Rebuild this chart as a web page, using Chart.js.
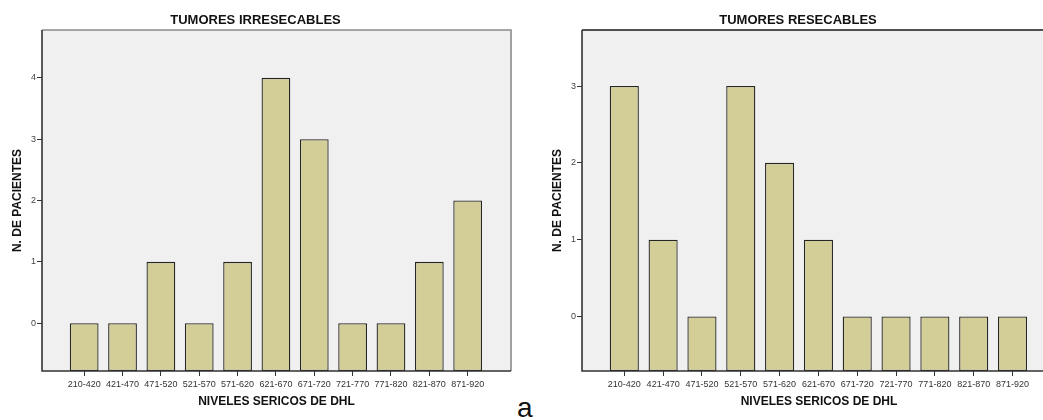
<!DOCTYPE html>
<html>
<head>
<meta charset="utf-8">
<script src="https://cdn.jsdelivr.net/npm/chart.js@4"></script>
<style>
  html, body { margin: 0; padding: 0; background: #fff; overflow: hidden; width: 1043px; height: 420px; }
  .wrap { position: absolute; top: 0; }
  #letter { position: absolute; left: 517px; top: 394px; font: 28px "Liberation Sans", Arial, sans-serif; line-height: 28px; color: #111; }
</style>
</head>
<body>
<div class="wrap" style="left:0"><canvas id="irres" width="515" height="420"></canvas></div>
<div class="wrap" style="left:540px"><canvas id="res" width="520" height="420"></canvas></div>
<div id="letter">a</div>
<script>
const FONT = '"Liberation Sans", Arial, sans-serif';

// rangos de DHL
const labels = ['210-420', '421-470', '471-520', '521-570', '571-620', '621-670',
  '671-720', '721-770', '771-820', '821-870', '871-920'];

// numero de pacientes
const irresecables = [0, 0, 1, 0, 1, 4, 3, 0, 0, 1, 2];
const resecables = [3, 1, 0, 3, 2, 1, 0, 0, 0, 0, 0];

const yTicksIrres = [0, 1, 2, 3, 4];
const yTicksRes = [0, 1, 2, 3];

// plot frame: gray panel + lines round it
const framePlugin = {
  id: 'frame',
  beforeDraw(chart, args, opts) {
    const { ctx, chartArea: a } = chart;
    ctx.save();
    ctx.fillStyle = '#f0f0f0';
    ctx.fillRect(a.left, a.top, a.right - a.left, a.bottom - a.top);
    ctx.restore();
  },
  afterDatasetsDraw(chart, args, opts) {
    const { ctx, chartArea: a } = chart;
    ctx.save();
    ctx.lineWidth = 1.6;
    ctx.strokeStyle = opts.farColor;
    ctx.beginPath();
    ctx.moveTo(a.left, a.top);
    ctx.lineTo(a.right, a.top);
    ctx.lineTo(a.right, a.bottom);
    ctx.stroke();
    ctx.strokeStyle = '#333';
    ctx.beginPath();
    ctx.moveTo(a.left, a.top);
    ctx.lineTo(a.left, a.bottom);
    ctx.lineTo(a.right, a.bottom);
    ctx.stroke();
    ctx.restore();
  }
};

function makeChart(el, title, values, yMin, yMax, yTicks, xMin, xMax, farColor) {
  return new Chart(document.getElementById(el), {
    type: 'bar',
    data: {
      datasets: [{
        data: values.map((v, i) => ({ x: i, y: v })),
        base: yMin,
        backgroundColor: '#d3ce98',
        borderColor: '#262626',
        borderWidth: 1.3,
        borderSkipped: false,
        barPercentage: 0.75,
        categoryPercentage: 1
      }]
    },
    options: {
      responsive: false,
      animation: false,
      layout: { padding: { left: 0, right: 4, top: 0, bottom: 0 } },
      plugins: {
        legend: { display: false },
        tooltip: { enabled: false },
        title: {
          display: true,
          text: title,
          color: '#111',
          font: { family: FONT, size: 13, weight: 'bold' },
          padding: { top: 12.5, bottom: 1.9 }
        },
        frame: { farColor }
      },
      scales: {
        x: {
          type: 'linear',
          min: xMin,
          max: xMax,
          offset: false,
          afterFit(scale) { scale.height = 49; },
          afterBuildTicks(scale) { scale.ticks = labels.map((_, i) => ({ value: i })); },
          grid: { offset: false, drawOnChartArea: false, tickLength: 5, color: '#333' },
          border: { display: false },
          ticks: {
            autoSkip: false,
            maxRotation: 0,
            padding: 3,
            color: '#333',
            font: { family: FONT, size: 9 },
            callback: (v) => labels[v]
          },
          title: {
            display: true,
            text: 'NIVELES SERICOS DE DHL',
            color: '#111',
            font: { family: FONT, size: 12, weight: 'bold' },
            padding: { top: 0, bottom: 11 }
          }
        },
        y: {
          min: yMin,
          max: yMax,
          afterFit(scale) { scale.width = 42; },
          afterBuildTicks(scale) { scale.ticks = yTicks.map((v) => ({ value: v })); },
          grid: { drawOnChartArea: false, tickLength: 5, color: '#333' },
          border: { display: false },
          ticks: {
            padding: 1,
            color: '#444',
            font: { family: FONT, size: 9 }
          },
          title: {
            display: true,
            text: 'N. DE PACIENTES',
            color: '#111',
            font: { family: FONT, size: 12, weight: 'bold' },
            padding: { top: 10, bottom: 0 }
          }
        }
      }
    },
    plugins: [framePlugin]
  });
}

makeChart('irres', 'TUMORES IRRESECABLES', irresecables, -0.78, 4.78, yTicksIrres, -1.10, 11.13, '#8a8a8a');
makeChart('res', 'TUMORES RESECABLES', resecables, -0.71, 3.73, yTicksRes, -1.09, 11.12, '#1a1a1a');
</script>
</body>
</html>
